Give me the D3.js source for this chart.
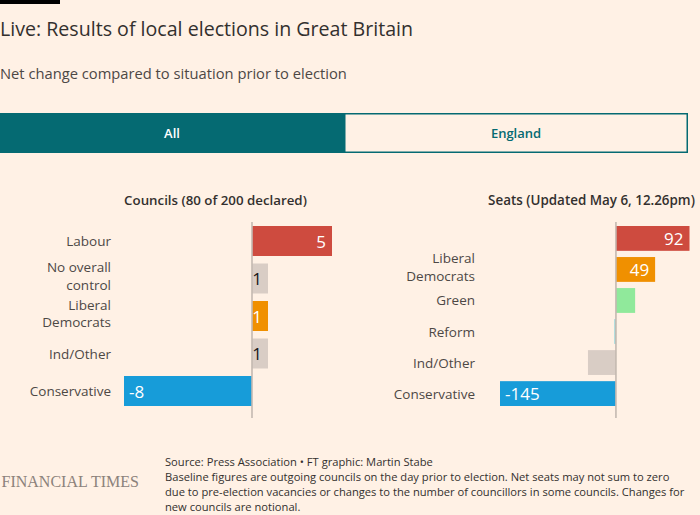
<!DOCTYPE html>
<html>
<head>
<meta charset="utf-8">
<script src="https://cdn.jsdelivr.net/npm/d3@7"></script>
<style>
  html, body { margin: 0; padding: 0; background: #fff1e5; }
  svg { display: block; }
  text { font-family: "Open Sans", "Noto Sans", sans-serif; }
</style>
</head>
<body>
<svg id="chart" width="700" height="515"></svg>
<script>
// ---------- data ----------
const titleText = "Live: Results of local elections in Great Britain";
const subtitleText = "Net change compared to situation prior to election";
const tabLabels = ["All", "England"];

const councilTitle = "Councils (80 of 200 declared)";
const councilParties = ["Labour", "No overall control", "Liberal Democrats", "Ind/Other", "Conservative"];
const councilValues = [5, 1, 1, 1, -8];

const seatTitle = "Seats (Updated May 6, 12.26pm)";
const seatParties = ["Labour", "Liberal Democrats", "Green", "Reform", "Ind/Other", "Conservative"];
const seatCategoryLabels = ["", "Liberal Democrats", "Green", "Reform", "Ind/Other", "Conservative"];
const seatValues = [92, 49, 24, -2, -35, -145];

const footerLines = [
  "Source: Press Association \u2022 FT graphic: Martin Stabe",
  "Baseline figures are outgoing councils on the day prior to election. Net seats may not sum to zero",
  "due to pre-election vacancies or changes to the number of councillors in some councils. Changes for",
  "new councils are notional."
];
const logoText = "FINANCIAL TIMES";

// ---------- styles ----------
const partyColour = d3.scaleOrdinal()
  .domain(["Labour", "No overall control", "Liberal Democrats", "Ind/Other", "Conservative", "Green", "Reform"])
  .range(["#ce4b3f", "#d9cdc5", "#f09000", "#d9cdc5", "#179cd9", "#90e99b", "#8fd5db"]);
const darkText = new Set(["No overall control", "Ind/Other"]);

const svg = d3.select("#chart");
const teal = "#056a72";

// top bar
svg.append("rect").attr("x", 0).attr("y", 0).attr("width", 60).attr("height", 4).attr("fill", "#000");

function fitText(sel, target) {
  const w = sel.node().getComputedTextLength();
  const fs = parseFloat(sel.attr("font-size"));
  sel.attr("font-size", (fs * target / w).toFixed(2));
}

const title = svg.append("text").attr("x", 0).attr("y", 36)
  .attr("font-size", 21).attr("fill", "#33302e").text(titleText);
fitText(title, 413);

const sub = svg.append("text").attr("x", 0).attr("y", 79)
  .attr("font-size", 14).attr("fill", "#4d4845").text(subtitleText);
fitText(sub, 347);

// tabs
svg.append("rect").attr("x", 0).attr("y", 113).attr("width", 344.5).attr("height", 40).attr("fill", teal);
svg.append("rect").attr("x", 344.75).attr("y", 113.75).attr("width", 342.5).attr("height", 38.5)
  .attr("fill", "none").attr("stroke", teal).attr("stroke-width", 1.5);
svg.append("text").attr("x", 172).attr("y", 138).attr("text-anchor", "middle")
  .attr("font-size", 13).attr("font-weight", 600).attr("fill", "#fff").text(tabLabels[0]);
svg.append("text").attr("x", 516).attr("y", 138).attr("text-anchor", "middle")
  .attr("font-size", 13).attr("font-weight", 600).attr("fill", teal).text(tabLabels[1]);

// ---------- bar panels ----------
function wrapWords(text, maxW, fs) {
  const words = text.split(" ");
  const tmp = svg.append("text").attr("font-size", fs);
  const lines = [];
  let cur = "";
  words.forEach(w => {
    const test = cur ? cur + " " + w : w;
    tmp.text(test);
    if (tmp.node().getComputedTextLength() > maxW && cur) { lines.push(cur); cur = w; }
    else cur = test;
  });
  lines.push(cur);
  tmp.remove();
  return lines;
}

function panel(opts) {
  const g = svg.append("g");
  const x = d3.scaleLinear().domain(opts.domain).range(opts.xRange);
  const y = d3.scaleBand().domain(opts.parties).range([226, 406]).paddingInner(0.2).paddingOuter(0);
  const data = opts.parties.map((p, i) => ({ party: p, value: opts.values[i], label: opts.labels[i] }));

  const t = g.append("text").attr("x", opts.titleX).attr("y", 205).attr("text-anchor", "middle")
    .attr("font-size", 13).attr("font-weight", 600).attr("fill", "#33302e").text(opts.title);
  fitText(t, opts.titleW);

  g.selectAll("rect.bar").data(data).join("rect").attr("class", "bar")
    .attr("x", d => x(Math.min(0, d.value)))
    .attr("width", d => Math.abs(x(d.value) - x(0)))
    .attr("y", d => y(d.party)).attr("height", y.bandwidth())
    .attr("fill", d => partyColour(d.party));

  // zero line
  g.append("line").attr("x1", x(0)).attr("x2", x(0)).attr("y1", 222).attr("y2", 418)
    .attr("stroke", "#c4b9b1").attr("stroke-width", 1.6);

  // category labels
  data.forEach(d => {
    if (!d.label) return;
    const lines = wrapWords(d.label, 80, 13.5);
    const c = y(d.party) + y.bandwidth() / 2;
    const n = lines.length;
    lines.forEach((ln, i) => {
      g.append("text").attr("x", opts.labelX).attr("text-anchor", "end")
        .attr("y", c + 5 + (i - (n - 1) / 2) * 17.8 - (n - 1) * 2.5)
        .attr("font-size", 13.5).attr("fill", "#4d4845").text(ln);
    });
  });

  // value labels
  g.selectAll("text.val").data(data.filter(d => Math.abs(d.value) >= opts.minLabel)).join("text")
    .attr("class", "val")
    .attr("x", d => d.value >= 0 ? x(d.value) - 6 : x(d.value) + 5)
    .attr("text-anchor", d => d.value >= 0 ? "end" : "start")
    .attr("y", d => y(d.party) + y.bandwidth() / 2 + 6.5)
    .attr("font-size", 17)
    .attr("fill", d => darkText.has(d.party) ? "#1a1817" : "#fff")
    .text(d => d.value);
}

panel({
  title: councilTitle, titleX: 215.5, titleW: 183,
  parties: councilParties, labels: councilParties, values: councilValues,
  domain: [-8, 5], xRange: [124, 332], labelX: 111, minLabel: 0
});
panel({
  title: seatTitle, titleX: 591.5, titleW: 207,
  parties: seatParties, labels: seatCategoryLabels, values: seatValues,
  domain: [-145, 92], xRange: [500, 689.5], labelX: 475, minLabel: 40
});

// ---------- footer ----------
const logo = svg.append("text").attr("x", 1.5).attr("y", 487)
  .attr("font-family", "'Liberation Serif', 'DejaVu Serif', serif")
  .attr("font-size", 15).attr("fill", "#8c827b").text(logoText);
logo.style("font-family", "'Liberation Serif', serif");
fitText(logo, 137.5);

const fsFoot = 12;
const foot = svg.append("g");
footerLines.forEach((ln, i) => {
  foot.append("text").attr("x", 165).attr("y", 466 + i * 15)
    .attr("font-size", fsFoot).attr("fill", "#33302e").text(ln);
});
// scale footer to match the widest line width
const widest = foot.selectAll("text").nodes()[2];
const k = 520 / widest.getComputedTextLength();
foot.selectAll("text").attr("font-size", (fsFoot * k).toFixed(2));
</script>
</body>
</html>
